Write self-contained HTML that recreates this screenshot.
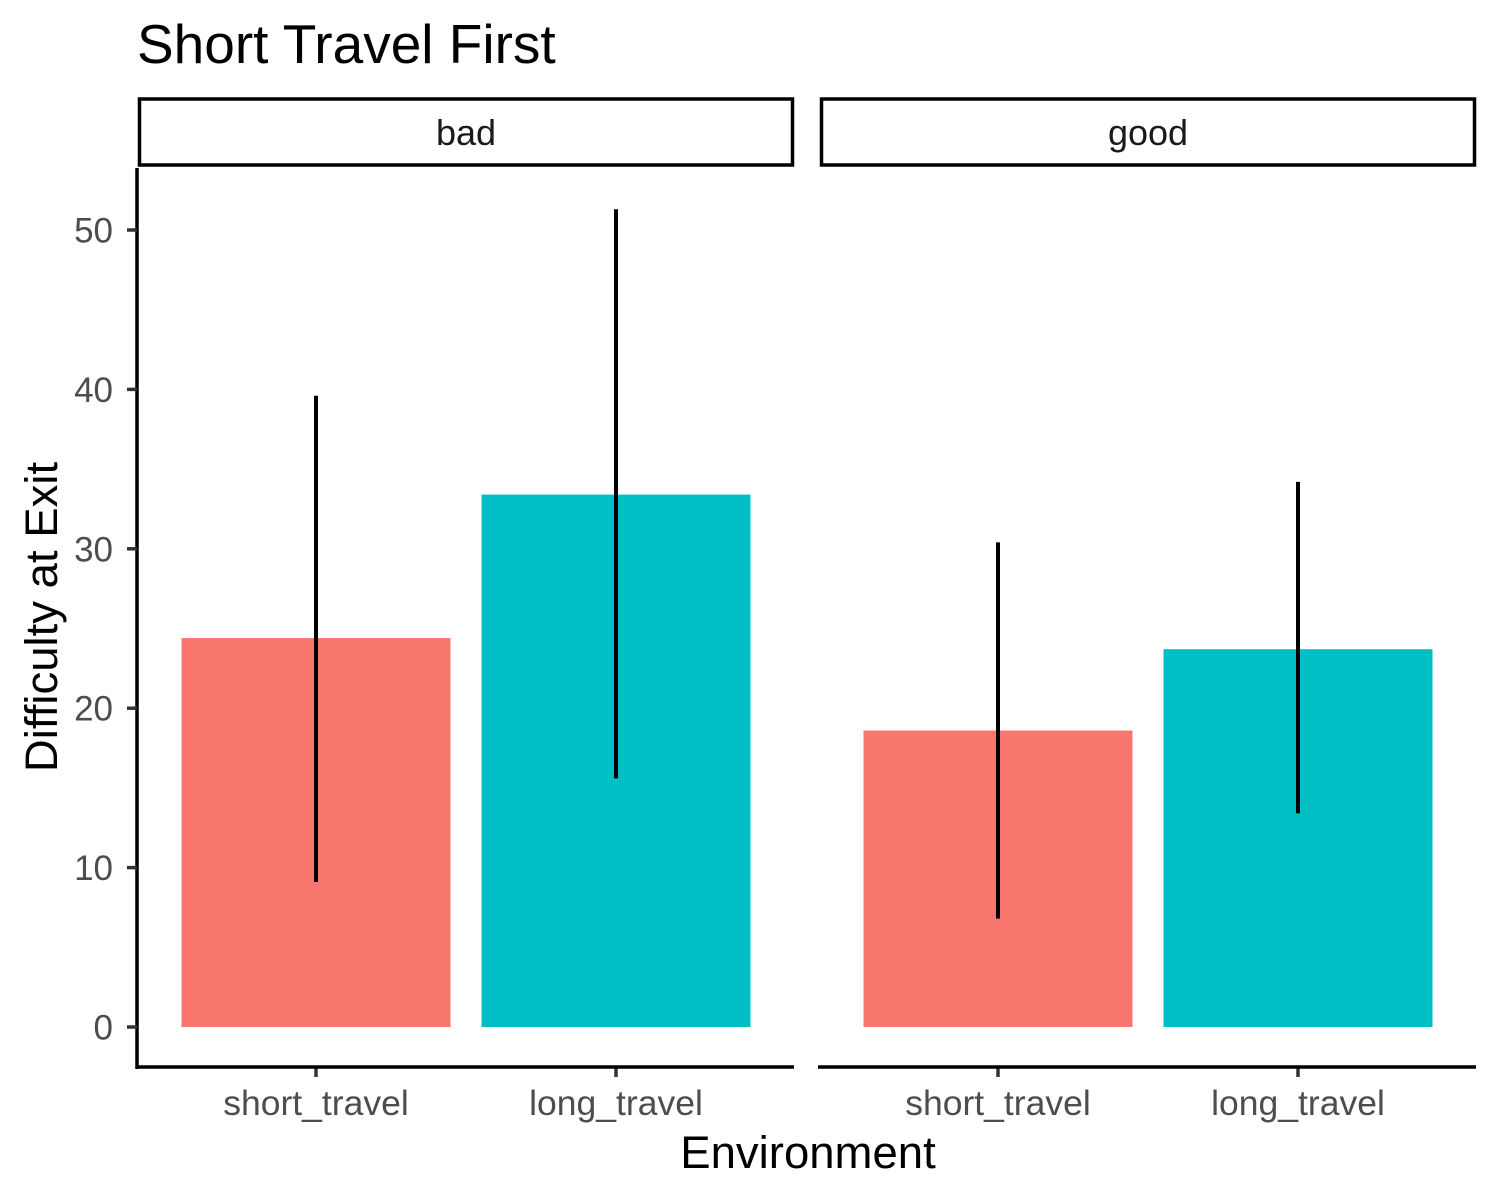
<!DOCTYPE html>
<html><head><meta charset="utf-8"><style>body{margin:0;background:#fff}svg{display:block;font-family:"Liberation Sans",Arial,sans-serif}</style></head>
<body>
<svg id="c" width="1500" height="1200" viewBox="0 0 1500 1200">
<text x="137" y="63" font-size="55" fill="#000">Short Travel First</text>
<text x="808" y="1168" font-size="45.5" text-anchor="middle" fill="#000">Environment</text>
<text transform="translate(57,617) rotate(-90)" font-size="45.5" text-anchor="middle" fill="#000">Difficulty at Exit</text>
</svg>
<script>
const panels = ["bad", "good"];
const categories = ["short_travel", "long_travel"];
const means = [[24.4, 33.4], [18.6, 23.7]];
const lowers = [[9.1, 15.6], [6.8, 13.4]];
const uppers = [[39.6, 51.3], [30.4, 34.2]];
const yTicks = [0, 10, 20, 30, 40, 50];
const colors = ["#F8766D", "#00BFC4"];

const svg = document.getElementById('c');
const NS = 'http://www.w3.org/2000/svg';
function mk(tag, attrs, parent) {
  const e = document.createElementNS(NS, tag);
  for (const k in attrs) e.setAttribute(k, attrs[k]);
  (parent || svg).appendChild(e);
  return e;
}
const y0 = 1027, pxPerUnit = 15.94;
function yScale(v) { return y0 - v * pxPerUnit; }
const panelX = [138, 820], panelW = 656, bandW = 300, barW = 269;
function xScale(p, i) { return panelX[p] + 178 + i * bandW; }

panels.forEach((name, p) => {
  const px = panelX[p];
  const strip = mk('rect', {x: px + 1.5, y: 99, width: panelW - 3, height: 66, fill: '#fff', stroke: '#000', 'stroke-width': 3.5});
  
  
  const st = mk('text', {x: px + panelW / 2, y: 145, 'font-size': 36, 'text-anchor': 'middle', fill: '#1a1a1a'});
  st.textContent = name;
  
  

  categories.forEach((cat, i) => {
    const cx = xScale(p, i);
    const bar = mk('rect', {x: cx - barW / 2, y: yScale(means[p][i]), width: barW, height: yScale(0) - yScale(means[p][i]), fill: colors[i]});
    
    
    const eb = mk('line', {x1: cx, x2: cx, y1: yScale(lowers[p][i]), y2: yScale(uppers[p][i]), stroke: '#000', 'stroke-width': 4});
    
    
    mk('line', {x1: cx, x2: cx, y1: 1067, y2: 1077, stroke: '#333', 'stroke-width': 3.5});
    const tl = mk('text', {x: cx, y: 1115, 'font-size': 35.5, 'text-anchor': 'middle', fill: '#4d4d4d'});
    tl.textContent = cat;
    
    
  });
  const xa = mk('line', {x1: px - 2, x2: px + panelW, y1: 1067, y2: 1067, stroke: '#000', 'stroke-width': 3.5});
  
  
});

const ya = mk('line', {x1: 137, x2: 137, y1: 168, y2: 1069, stroke: '#000', 'stroke-width': 3.5});


yTicks.forEach(t => {
  mk('line', {x1: 127, x2: 137, y1: yScale(t), y2: yScale(t), stroke: '#333', 'stroke-width': 3.5});
  const tx = mk('text', {x: 113, y: yScale(t) + 12.5, 'font-size': 35, 'text-anchor': 'end', fill: '#4d4d4d'});
  tx.textContent = t;
  
  
});
</script>
</body></html>
